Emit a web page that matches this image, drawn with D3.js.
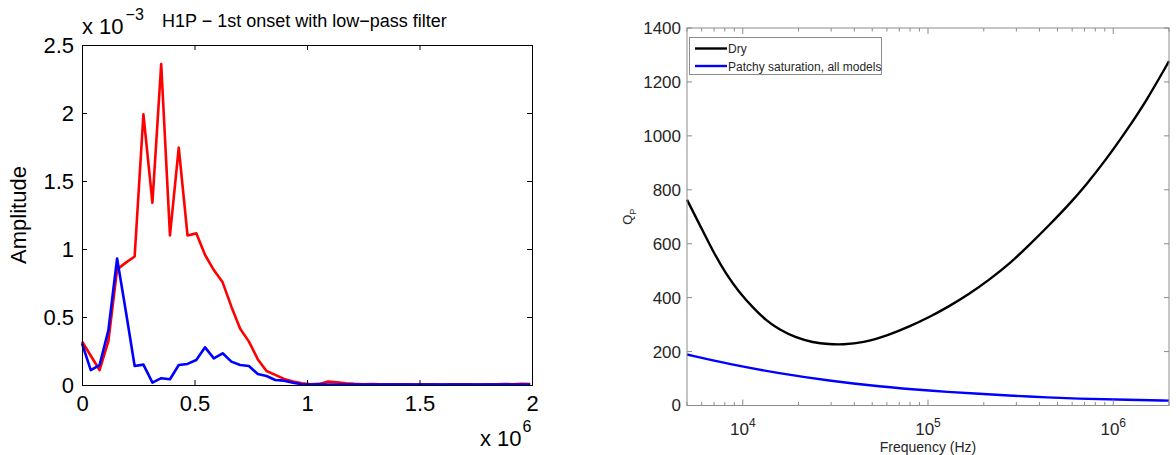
<!DOCTYPE html>
<html>
<head>
<meta charset="utf-8">
<script src="https://cdn.jsdelivr.net/npm/d3@7"></script>
<style>
  body { margin: 0; background: #fff; }
  svg { display: block; font-family: "Liberation Sans", Arial, sans-serif; }
</style>
</head>
<body>
<div id="app"></div>
<script>
// ---- left panel data (x in units of 10^6, amplitude in units of 10^-3)
const freqMHz = [0, 0.039, 0.078, 0.117, 0.156, 0.195, 0.234, 0.273, 0.313, 0.352,
  0.391, 0.430, 0.469, 0.508, 0.547, 0.586, 0.625, 0.664, 0.703, 0.742,
  0.781, 0.820, 0.859, 0.898, 0.938, 0.977, 1.016, 1.055, 1.094, 1.133,
  1.172, 1.211, 1.250, 1.289, 1.328, 1.367, 1.406, 1.445, 1.484, 1.523,
  1.563, 1.602, 1.641, 1.680, 1.719, 1.758, 1.797, 1.836, 1.875, 1.914,
  1.953, 1.992];
const redAmp = [0.32, 0.215, 0.11, 0.32, 0.85, 0.90, 0.945, 1.99, 1.34, 2.36,
  1.10, 1.745, 1.10, 1.115, 0.956, 0.845, 0.755, 0.576, 0.414, 0.319,
  0.19, 0.103, 0.074, 0.045, 0.025, 0.012, 0.006, 0.008, 0.025, 0.02,
  0.012, 0.008, 0.006, 0.007, 0.006, 0.005, 0.006, 0.005, 0.004, 0.006,
  0.005, 0.004, 0.005, 0.006, 0.005, 0.004, 0.005, 0.006, 0.007, 0.006,
  0.008, 0.007];
const blueAmp = [0.306, 0.11, 0.147, 0.40, 0.93, 0.54, 0.14, 0.15, 0.017, 0.05,
  0.042, 0.147, 0.155, 0.184, 0.277, 0.196, 0.233, 0.172, 0.147, 0.14,
  0.081, 0.066, 0.037, 0.032, 0.017, 0.005, 0.004, 0.005, 0.004, 0.003,
  0.004, 0.003, 0.003, 0.004, 0.003, 0.003, 0.004, 0.003, 0.003, 0.004,
  0.003, 0.003, 0.004, 0.003, 0.003, 0.004, 0.003, 0.004, 0.003, 0.003,
  0.004, 0.003];
const leftXTicks = [0, 0.5, 1, 1.5, 2];
const leftYTicks = [0, 0.5, 1, 1.5, 2, 2.5];

// ---- right panel data (Hz, Q_P)
const dryFreq = [5000, 5850, 6890, 8130, 9590, 11320, 13370, 15780, 19410, 23820,
  29310, 34590, 44360, 61800, 79250, 101400, 130000, 166700, 213800, 274200,
  350800, 449800, 576800, 709600, 909900, 1167000, 1496000, 2000000];
const dryQ = [763, 671, 573, 487, 419, 364, 315, 281, 251, 234,
  227, 226, 232, 262, 293, 327, 368, 413, 466, 524,
  594, 668, 745, 816, 910, 1015, 1125, 1277];
const patchyFreq = [5000, 8470, 15780, 29310, 54580, 101400, 188800, 350800,
  653100, 1213000, 2000000];
const patchyQ = [189, 153, 119, 92, 70, 55, 43, 33, 25, 21, 18];
const rightYTicks = [0, 200, 400, 600, 800, 1000, 1200, 1400];
const legendLabels = ['Dry', 'Patchy saturation, all models'];

const svg = d3.select('#app').append('svg')
  .attr('width', 1176).attr('height', 455);

// ================= LEFT PANEL =================
const L = { left: 82, right: 532, top: 45, bottom: 385 };
const xL = d3.scaleLinear().domain([0, 2]).range([L.left, L.right]);
const yL = d3.scaleLinear().domain([0, 2.5]).range([L.bottom, L.top]);

const gL = svg.append('g');

const lineL = (ys) => d3.line()
  .x((d, i) => xL(freqMHz[i]))
  .y(d => yL(d))(ys);

gL.append('path').attr('d', lineL(redAmp))
  .attr('fill', 'none').attr('stroke', '#ff0000').attr('stroke-width', 2.6)
  .attr('stroke-linejoin', 'round');
gL.append('path').attr('d', lineL(blueAmp))
  .attr('fill', 'none').attr('stroke', '#0000ff').attr('stroke-width', 2.6)
  .attr('stroke-linejoin', 'round');

const styleAxis = (g, color, size) => {
  g.select('.domain').attr('stroke', color).attr('stroke-width', 1);
  g.selectAll('.tick line').attr('stroke', color);
  g.selectAll('.tick text').attr('fill', color).attr('font-size', size)
    .attr('font-family', '"Liberation Sans", Arial, sans-serif');
};

gL.append('g').attr('transform', `translate(0,${L.bottom})`)
  .call(d3.axisBottom(xL).tickValues(leftXTicks).tickSize(-5).tickPadding(10)
    .tickFormat(d3.format('')))
  .call(g => styleAxis(g, '#000', 22));
gL.append('g').attr('transform', `translate(0,${L.top})`)
  .call(d3.axisTop(xL).tickValues(leftXTicks).tickSize(-5).tickFormat(''))
  .call(g => styleAxis(g, '#000', 22));
gL.append('g').attr('transform', `translate(${L.left},0)`)
  .call(d3.axisLeft(yL).tickValues(leftYTicks).tickSize(-5).tickPadding(8)
    .tickFormat(d3.format('')))
  .call(g => styleAxis(g, '#000', 22));
gL.append('g').attr('transform', `translate(${L.right},0)`)
  .call(d3.axisRight(yL).tickValues(leftYTicks).tickSize(-5).tickFormat(''))
  .call(g => styleAxis(g, '#000', 22));

// exponent labels and title
const expY = gL.append('text').attr('x', 82).attr('y', 34)
  .attr('font-size', 22).attr('fill', '#000').text('x 10');
expY.append('tspan').attr('font-size', 16).attr('dx', 2).attr('dy', -14).text('\u22123');

gL.append('text').attr('x', 162).attr('y', 27)
  .attr('font-size', 18).attr('fill', '#000')
  .text('H1P \u2212 1st onset with low\u2212pass filter');

const expX = gL.append('text').attr('x', 480).attr('y', 446)
  .attr('font-size', 22).attr('fill', '#000').text('x 10');
expX.append('tspan').attr('font-size', 16).attr('dx', 1).attr('dy', -14).text('6');

gL.append('text')
  .attr('transform', `translate(26,${(L.top + L.bottom) / 2}) rotate(-90)`)
  .attr('text-anchor', 'middle').attr('font-size', 22).attr('fill', '#000')
  .text('Amplitude');

// ================= RIGHT PANEL =================
const R = { left: 687, right: 1169, top: 28, bottom: 405.5 };
const xR = d3.scaleLog().domain([5000, 2000000]).range([R.left, R.right]);
const yR = d3.scaleLinear().domain([0, 1400]).range([R.bottom, R.top]);
const axisGray = '#8c8c8c';
const textGray = '#262626';

const gR = svg.append('g');

const lineR = d3.line()
  .x(d => xR(d[0])).y(d => yR(d[1]))
  .curve(d3.curveBasis);

gR.append('path').attr('d', lineR(dryFreq.map((f, i) => [f, dryQ[i]])))
  .attr('fill', 'none').attr('stroke', '#000').attr('stroke-width', 2.4);
gR.append('path').attr('d', lineR(patchyFreq.map((f, i) => [f, patchyQ[i]])))
  .attr('fill', 'none').attr('stroke', '#0000ff').attr('stroke-width', 2.4);

// frame
gR.append('rect')
  .attr('x', R.left).attr('y', R.top)
  .attr('width', R.right - R.left).attr('height', R.bottom - R.top)
  .attr('fill', 'none').attr('stroke', axisGray).attr('stroke-width', 1);

// log ticks (major on decades, minor otherwise), bottom and top
const logTicks = xR.ticks();
const isMajor = d => Math.abs(Math.log10(d) - Math.round(Math.log10(d))) < 1e-9;
[[R.bottom, -1], [R.top, 1]].forEach(([y0, dir]) => {
  gR.selectAll(null).data(logTicks).enter().append('line')
    .attr('x1', d => xR(d)).attr('x2', d => xR(d))
    .attr('y1', y0).attr('y2', d => y0 + dir * (isMajor(d) ? 6 : 3.5))
    .attr('stroke', axisGray);
});

// y ticks left and right
[[R.left, 1], [R.right, -1]].forEach(([x0, dir]) => {
  gR.selectAll(null).data(rightYTicks).enter().append('line')
    .attr('x1', x0).attr('x2', x0 + dir * 5)
    .attr('y1', d => yR(d)).attr('y2', d => yR(d))
    .attr('stroke', axisGray);
});

gR.selectAll(null).data(rightYTicks).enter().append('text')
  .attr('x', R.left - 6).attr('y', d => yR(d)).attr('dy', '0.35em')
  .attr('text-anchor', 'end').attr('font-size', 17).attr('fill', textGray)
  .text(d => d);

const majorTicks = logTicks.filter(isMajor);
const xLab = gR.selectAll(null).data(majorTicks).enter().append('text')
  .attr('x', d => xR(d)).attr('y', 435)
  .attr('text-anchor', 'middle').attr('font-size', 17).attr('fill', textGray);
xLab.append('tspan').text('10');
xLab.append('tspan').attr('font-size', 12).attr('dy', -8)
  .text(d => Math.round(Math.log10(d)));

gR.append('text').attr('x', (R.left + R.right) / 2).attr('y', 451.5)
  .attr('text-anchor', 'middle').attr('font-size', 14).attr('fill', textGray)
  .text('Frequency (Hz)');

const qLab = gR.append('text')
  .attr('transform', `translate(632,${(R.top + R.bottom) / 2}) rotate(-90)`)
  .attr('text-anchor', 'middle').attr('font-size', 13).attr('fill', textGray);
qLab.append('tspan').text('Q');
qLab.append('tspan').attr('font-size', 9).attr('dy', 4).text('P');

// legend
const lg = gR.append('g');
lg.append('rect').attr('x', 689.5).attr('y', 37.5).attr('width', 192).attr('height', 37)
  .attr('fill', '#fff').attr('stroke', axisGray);
const legendColors = ['#000', '#0000ff'];
legendLabels.forEach((lab, i) => {
  const y = 48.5 + i * 17.5;
  lg.append('line').attr('x1', 695).attr('x2', 727).attr('y1', y).attr('y2', y)
    .attr('stroke', legendColors[i]).attr('stroke-width', 2.4);
  lg.append('text').attr('x', 728).attr('y', y + 4.5)
    .attr('font-size', 12).attr('fill', textGray).text(lab);
});
</script>
</body>
</html>
